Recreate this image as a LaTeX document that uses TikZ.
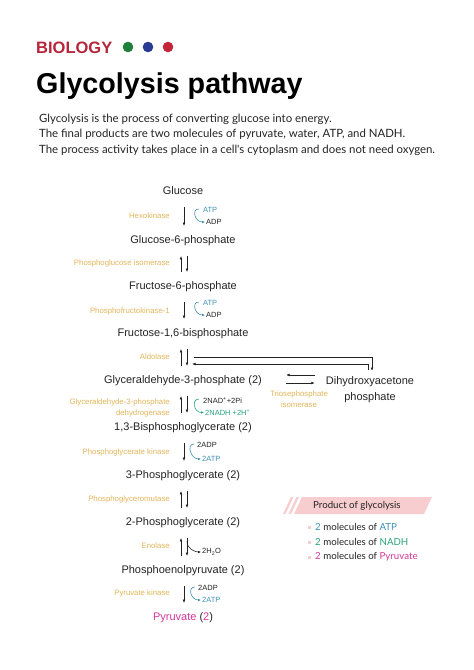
\documentclass[tikz,border=0pt]{standalone}
\usepackage{fontspec}
\setmainfont{Liberation Sans}
\newfontfamily\latofont{Lato}
\usetikzlibrary{arrows.meta,calc}

\definecolor{bioRed}{RGB}{181,38,58}
\definecolor{dotGreen}{RGB}{30,126,58}
\definecolor{dotBlue}{RGB}{42,59,145}
\definecolor{dotRed}{RGB}{196,36,58}
\definecolor{enzGold}{RGB}{226,181,90}
\definecolor{atpBlue}{RGB}{61,143,181}
\definecolor{nadhGreen}{RGB}{42,163,122}
\definecolor{pyrPink}{RGB}{212,53,154}
\definecolor{boxPink}{RGB}{247,205,208}
\definecolor{txtGray}{RGB}{35,35,35}

\begin{document}
\begin{tikzpicture}[x=1pt,y=1pt,yscale=-1,xscale=1,
  met/.style={font=\fontsize{11}{13}\selectfont, inner sep=0pt, text height=8pt, text depth=2.5pt, text=txtGray},
  enz/.style={font=\fontsize{7.8}{11}\selectfont, text=enzGold, inner sep=0pt, anchor=east, align=right},
  sidetxt/.style={font=\fontsize{7.5}{9}\selectfont, inner sep=0pt, anchor=west, text=txtGray},
  rx/.style={-{Latex[length=3.5pt,width=2.8pt]}, line width=0.65pt, txtGray},
  metgap/.style={shorten <=9.5pt, shorten >=9.5pt},
  sidearc/.style={-{Latex[length=3pt,width=2.6pt]}, line width=0.6pt},
  prodtxt/.style={anchor=west, inner sep=0pt, font=\latofont\fontsize{9.7}{11}\selectfont, text=txtGray}]
\useasboundingbox (0,0) rectangle (474,670);

% Header
\node[anchor=base west, inner sep=0pt, font=\bfseries\fontsize{16.5}{18}\selectfont, text=bioRed] (bio) at (36,53) {BIOLOGY};
\fill[dotGreen] (128,47) circle (5.3);
\fill[dotBlue] (148,47) circle (5.3);
\fill[dotRed] (168,47) circle (5.3);
\node[anchor=base west, inner sep=0pt, font=\bfseries\fontsize{28.7}{30}\selectfont] (title) at (36,93) {Glycolysis pathway};
\node[anchor=north west, inner sep=0pt, align=left, font=\latofont\fontsize{11.4}{15.6}\selectfont, text=txtGray] (intro) at (39,113.5)
  {Glycolysis is the process of converting glucose into energy.\\
   The final products are two molecules of pyruvate, water, ATP, and NADH.\\
   The process activity takes place in a cell's cytoplasm and does not need oxygen.};

% Metabolites
\node[met] (glc) at (183,192) {Glucose};
\node[met] (g6p) at (183,241) {Glucose-6-phosphate};
\node[met] (f6p) at (183,287) {Fructose-6-phosphate};
\node[met] (fbp) at (183,334) {Fructose-1,6-bisphosphate};
\node[met] (g3p) at (183,381) {Glyceraldehyde-3-phosphate (2)};
\node[met] (bpg) at (183,428) {1,3-Bisphosphoglycerate (2)};
\node[met] (pg3) at (183,476) {3-Phosphoglycerate (2)};
\node[met] (pg2) at (183,523) {2-Phosphoglycerate (2)};
\node[met] (pep) at (183,571) {Phosphoenolpyruvate (2)};
\node[met] (pyr) at (183,618) {{\color{pyrPink}Pyruvate} ({\color{pyrPink}2})};
\node[anchor=north, inner sep=0pt, align=center, font=\fontsize{11}{16}\selectfont, text=txtGray] (dhap) at (370,376) {Dihydroxyacetone\\phosphate};

% Enzymes
\node[enz] (hk) at (170,216) {Hexokinase};
\node[enz] (pgi) at (170,263) {Phosphoglucose isomerase};
\node[enz] (pfk) at (170,311) {Phosphofructokinase-1};
\node[enz] (ald) at (170,357) {Aldolase};
\node[enz] (gapdh) at (170,407.5) {Glyceraldehyde-3-phosphate\\dehydrogenase};
\node[enz] (pgk) at (170,452) {Phosphoglycerate kinase};
\node[enz] (pgm) at (170,499) {Phosphoglyceromutase};
\node[enz] (eno) at (170,546) {Enolase};
\node[enz] (pk) at (170,593) {Pyruvate kinase};
\node[enz, anchor=center, align=center] (tpi) at (299,399.5) {Triosephosphate\\isomerase};

% Side products
\node[sidetxt, text=atpBlue] (atp1) at (203,210) {ATP};
\node[sidetxt] (adp1) at (206,222) {ADP};
\node[sidetxt, text=atpBlue] (atp2) at (203,303) {ATP};
\node[sidetxt] (adp2) at (206,315) {ADP};
\node[sidetxt] (nad) at (203,400) {2NAD\textsuperscript{+}+2Pi};
\node[sidetxt, text=nadhGreen] (nadh) at (205,412.5) {2NADH +2H\textsuperscript{+}};
\node[sidetxt] (adp3) at (197,445) {2ADP};
\node[sidetxt, text=atpBlue] (atp3) at (202,459) {2ATP};
\node[sidetxt] (h2o) at (202,552) {2H\textsubscript{2}O};
\node[sidetxt] (adp4) at (198,588) {2ADP};
\node[sidetxt, text=atpBlue] (atp4) at (202,600) {2ATP};

% Main arrows
\draw[rx,metgap] ([xshift=1pt]glc.south) -- ([xshift=1pt]g6p.north);
\draw[rx,metgap] ([xshift=-2pt]f6p.north) -- ([xshift=-2pt]g6p.south);
\draw[rx,metgap] ([xshift=4pt]g6p.south) -- ([xshift=4pt]f6p.north);
\draw[rx,metgap] ([xshift=1pt]f6p.south) -- ([xshift=1pt]fbp.north);
\draw[rx,metgap] ([xshift=-2pt]g3p.north) -- ([xshift=-2pt]fbp.south);
\draw[rx,metgap] ([xshift=4pt]fbp.south) -- ([xshift=4pt]g3p.north);
\draw[rx,metgap] ([xshift=-2pt]bpg.north) -- ([xshift=-2pt]g3p.south);
\draw[rx,metgap] ([xshift=4pt]g3p.south) -- ([xshift=4pt]bpg.north);
\draw[rx,metgap] ([xshift=1pt]bpg.south) -- ([xshift=1pt]pg3.north);
\draw[rx,metgap] ([xshift=-2pt]pg2.north) -- ([xshift=-2pt]pg3.south);
\draw[rx,metgap] ([xshift=4pt]pg3.south) -- ([xshift=4pt]pg2.north);
\draw[rx,metgap] ([xshift=-2pt]pep.north) -- ([xshift=-2pt]pg2.south);
\draw[rx,metgap] ([xshift=4pt]pg2.south) -- ([xshift=4pt]pep.north);
\draw[rx,metgap] ([xshift=1pt]pep.south) -- ([xshift=1pt]pyr.north);

% Aldolase to DHAP
\coordinate (aldT) at (194,357);
\coordinate (aldB) at (192,364);
\draw[rx, shorten >=5pt] (aldT) -| ([xshift=2pt]dhap.north);
\draw[rx, shorten <=6pt] ([xshift=-2pt]dhap.north) |- (aldB);

% Triosephosphate isomerase
\draw[rx, shorten <=11pt, shorten >=24pt] ($(g3p.east -| dhap.west)+(0,-6)$) -- ($(g3p.east)+(0,-6)$);
\draw[rx, shorten <=24pt, shorten >=11pt] ($(g3p.east)+(0,2)$) -- ($(g3p.east -| dhap.west)+(0,2)$);

% Side arcs
\draw[sidearc, atpBlue] ($(atp1.west)+(-4,-1)$) .. controls +(-8,0) and +(-10,0) .. ($(adp1.west)+(-1,0)$);
\draw[sidearc, atpBlue] ($(atp2.west)+(-4,-1)$) .. controls +(-8,0) and +(-10,0) .. ($(adp2.west)+(-1,0)$);
\draw[sidearc, nadhGreen] ($(nad.west)+(-4,-1)$) .. controls +(-8,0) and +(-10,0) .. ($(nadh.west)+(-1,0)$);
\draw[sidearc, atpBlue] ($(adp3.west)+(-3,-1)$) .. controls +(-8,0) and +(-10,0) .. ($(atp3.west)+(-1,0)$);
\draw[sidearc, atpBlue] ($(adp4.west)+(-3,-1)$) .. controls +(-8,0) and +(-10,0) .. ($(atp4.west)+(-1,0)$);
\coordinate (enoK) at ($(pg2.south)+(4,13)$);
\draw[sidearc, txtGray] (enoK) .. controls +(0,8) and +(-5,0) .. ($(h2o.west)+(-1,0)$);

% Product of glycolysis
\fill[boxPink] (302,497) -- (432,497) -- (424,514) -- (294,514) -- cycle;
\fill[boxPink] (291,497) -- (293.5,497) -- (285.5,514) -- (283,514) -- cycle;
\fill[boxPink] (296.5,497) -- (299,497) -- (291,514) -- (288.5,514) -- cycle;
\node[prodtxt] (prod) at (313,505.5) {Product of glycolysis};
\fill[boxPink] (308,525.5) rectangle (311,528.5);
\fill[boxPink] (308,540.5) rectangle (311,543.5);
\fill[boxPink] (308,555.5) rectangle (311,558.5);
\node[prodtxt] (item1) at (315,527) {{\color{atpBlue}2} molecules of {\color{atpBlue}ATP}};
\node[prodtxt] (item2) at (315,542) {{\color{nadhGreen}2} molecules of {\color{nadhGreen}NADH}};
\node[prodtxt] (item3) at (315,557) {{\color{pyrPink}2} molecules of {\color{pyrPink}Pyruvate}};

\end{tikzpicture}
\end{document}
